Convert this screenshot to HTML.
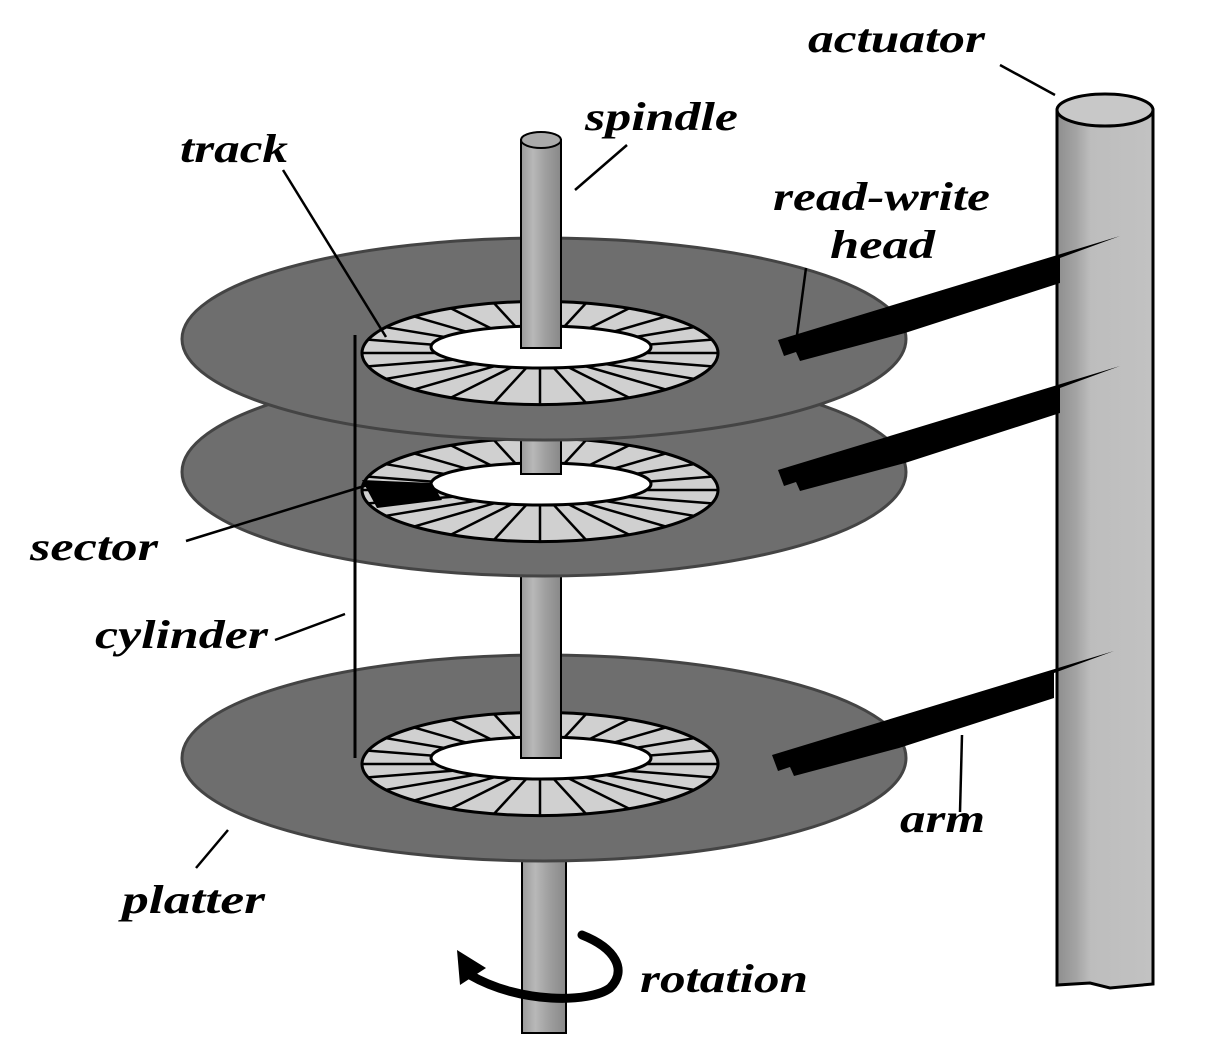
<!DOCTYPE html>
<html><head><meta charset="utf-8"><style>html,body{margin:0;padding:0;background:#fff}svg{display:block}text{font-family:"Liberation Serif",serif;font-style:italic;font-weight:bold;font-size:40px;fill:#000}</style></head>
<body>
<svg width="1215" height="1052" viewBox="0 0 1215 1052" xmlns="http://www.w3.org/2000/svg">
<defs>
<linearGradient id="sp" x1="0" x2="1" y1="0" y2="0">
<stop offset="0" stop-color="#9a9a9a"/><stop offset="0.3" stop-color="#b8b8b8"/><stop offset="0.6" stop-color="#a0a0a0"/><stop offset="1" stop-color="#888"/>
</linearGradient>
<linearGradient id="ac" x1="0" x2="1" y1="0" y2="0">
<stop offset="0" stop-color="#8e8e8e"/><stop offset="0.2" stop-color="#a4a4a4"/><stop offset="0.35" stop-color="#bdbdbd"/><stop offset="1" stop-color="#c2c2c2"/>
</linearGradient>
<g id="ring">
<g transform="scale(1,0.29)">
<circle r="178" fill="#d0d0d0" stroke="#000" stroke-width="3" vector-effect="non-scaling-stroke"/>
<g stroke="#000" stroke-width="2.5">
<line x1="0" y1="0" x2="178" y2="0" vector-effect="non-scaling-stroke"/>
<line x1="0" y1="0" x2="172" y2="46" vector-effect="non-scaling-stroke"/>
<line x1="0" y1="0" x2="154" y2="89" vector-effect="non-scaling-stroke"/>
<line x1="0" y1="0" x2="126" y2="126" vector-effect="non-scaling-stroke"/>
<line x1="0" y1="0" x2="89" y2="154" vector-effect="non-scaling-stroke"/>
<line x1="0" y1="0" x2="46" y2="172" vector-effect="non-scaling-stroke"/>
<line x1="0" y1="0" x2="0" y2="178" vector-effect="non-scaling-stroke"/>
<line x1="0" y1="0" x2="-46" y2="172" vector-effect="non-scaling-stroke"/>
<line x1="0" y1="0" x2="-89" y2="154" vector-effect="non-scaling-stroke"/>
<line x1="0" y1="0" x2="-126" y2="126" vector-effect="non-scaling-stroke"/>
<line x1="0" y1="0" x2="-154" y2="89" vector-effect="non-scaling-stroke"/>
<line x1="0" y1="0" x2="-172" y2="46" vector-effect="non-scaling-stroke"/>
<line x1="0" y1="0" x2="-178" y2="0" vector-effect="non-scaling-stroke"/>
<line x1="0" y1="0" x2="-172" y2="-46" vector-effect="non-scaling-stroke"/>
<line x1="0" y1="0" x2="-154" y2="-89" vector-effect="non-scaling-stroke"/>
<line x1="0" y1="0" x2="-126" y2="-126" vector-effect="non-scaling-stroke"/>
<line x1="0" y1="0" x2="-89" y2="-154" vector-effect="non-scaling-stroke"/>
<line x1="0" y1="0" x2="-46" y2="-172" vector-effect="non-scaling-stroke"/>
<line x1="0" y1="0" x2="0" y2="-178" vector-effect="non-scaling-stroke"/>
<line x1="0" y1="0" x2="46" y2="-172" vector-effect="non-scaling-stroke"/>
<line x1="0" y1="0" x2="89" y2="-154" vector-effect="non-scaling-stroke"/>
<line x1="0" y1="0" x2="126" y2="-126" vector-effect="non-scaling-stroke"/>
<line x1="0" y1="0" x2="154" y2="-89" vector-effect="non-scaling-stroke"/>
<line x1="0" y1="0" x2="172" y2="-46" vector-effect="non-scaling-stroke"/>
</g>
</g>
<ellipse cx="1" cy="-6" rx="110" ry="21" fill="#fff" stroke="#000" stroke-width="3"/>
</g>
<path id="arm" d="M778,340 L1120,236 L1060,258 L1060,283 L905,333 L800,361 L796,352 L784,356 Z" fill="#000"/>
</defs>

<rect x="522" y="850" width="44" height="183" fill="url(#sp)" stroke="#000" stroke-width="2"/>

<path d="M1057,110 L1057,985 L1090,983 L1110,988 L1153,984 L1153,110 Z" fill="url(#ac)" stroke="#000" stroke-width="3"/>
<ellipse cx="1105" cy="110" rx="48" ry="16" fill="#c8c8c8" stroke="#000" stroke-width="3"/>

<ellipse cx="544" cy="758" rx="362" ry="103" fill="#6e6e6e" stroke="#444" stroke-width="3"/>
<use href="#ring" transform="translate(540,764)"/>
<rect x="521" y="560" width="40" height="198" fill="url(#sp)" stroke="#000" stroke-width="2"/>
<use href="#arm" transform="translate(-6,415)"/>

<ellipse cx="544" cy="472" rx="362" ry="104" fill="#6e6e6e" stroke="#444" stroke-width="3"/>
<use href="#ring" transform="translate(540,490)"/>
<path d="M362,480 L432,483 L442,500 L377,508 Z" fill="#000"/>
<rect x="521" y="380" width="40" height="94" fill="url(#sp)" stroke="#000" stroke-width="2"/>
<use href="#arm" transform="translate(0,130)"/>

<ellipse cx="544" cy="339" rx="362" ry="101" fill="#6e6e6e" stroke="#444" stroke-width="3"/>
<use href="#ring" transform="translate(540,353)"/>
<rect x="521" y="140" width="40" height="208" fill="url(#sp)" stroke="#000" stroke-width="2"/>
<ellipse cx="541" cy="140" rx="20" ry="8" fill="#aaa" stroke="#000" stroke-width="2"/>
<use href="#arm"/>

<line x1="355" y1="335" x2="355" y2="758" stroke="#000" stroke-width="3"/>

<g stroke="#000" stroke-width="2.5">
<line x1="1000" y1="65" x2="1055" y2="95"/>
<line x1="627" y1="145" x2="575" y2="190"/>
<line x1="283" y1="170" x2="386" y2="337"/>
<line x1="806" y1="268" x2="795" y2="350"/>
<line x1="186" y1="541" x2="374" y2="483"/>
<line x1="275" y1="640" x2="345" y2="614"/>
<line x1="196" y1="868" x2="228" y2="830"/>
<line x1="962" y1="735" x2="960" y2="812"/>
</g>

<path d="M582,935 C615,948 628,970 610,988 C590,1003 520,1004 470,975" fill="none" stroke="#000" stroke-width="9" stroke-linecap="round"/>
<path d="M457,950 L486,968 L460,985 Z" fill="#000"/>

<text x="808" y="52" textLength="177" lengthAdjust="spacingAndGlyphs">actuator</text>
<text x="585" y="130" textLength="153" lengthAdjust="spacingAndGlyphs">spindle</text>
<text x="180" y="162" textLength="108" lengthAdjust="spacingAndGlyphs">track</text>
<text x="773" y="210" textLength="217" lengthAdjust="spacingAndGlyphs">read-write</text>
<text x="830" y="258" textLength="105" lengthAdjust="spacingAndGlyphs">head</text>
<text x="30" y="560" textLength="128" lengthAdjust="spacingAndGlyphs">sector</text>
<text x="95" y="648" textLength="173" lengthAdjust="spacingAndGlyphs">cylinder</text>
<text x="122" y="913" textLength="143" lengthAdjust="spacingAndGlyphs">platter</text>
<text x="900" y="832" textLength="85" lengthAdjust="spacingAndGlyphs">arm</text>
<text x="640" y="992" textLength="168" lengthAdjust="spacingAndGlyphs">rotation</text>
</svg>
</body></html>
